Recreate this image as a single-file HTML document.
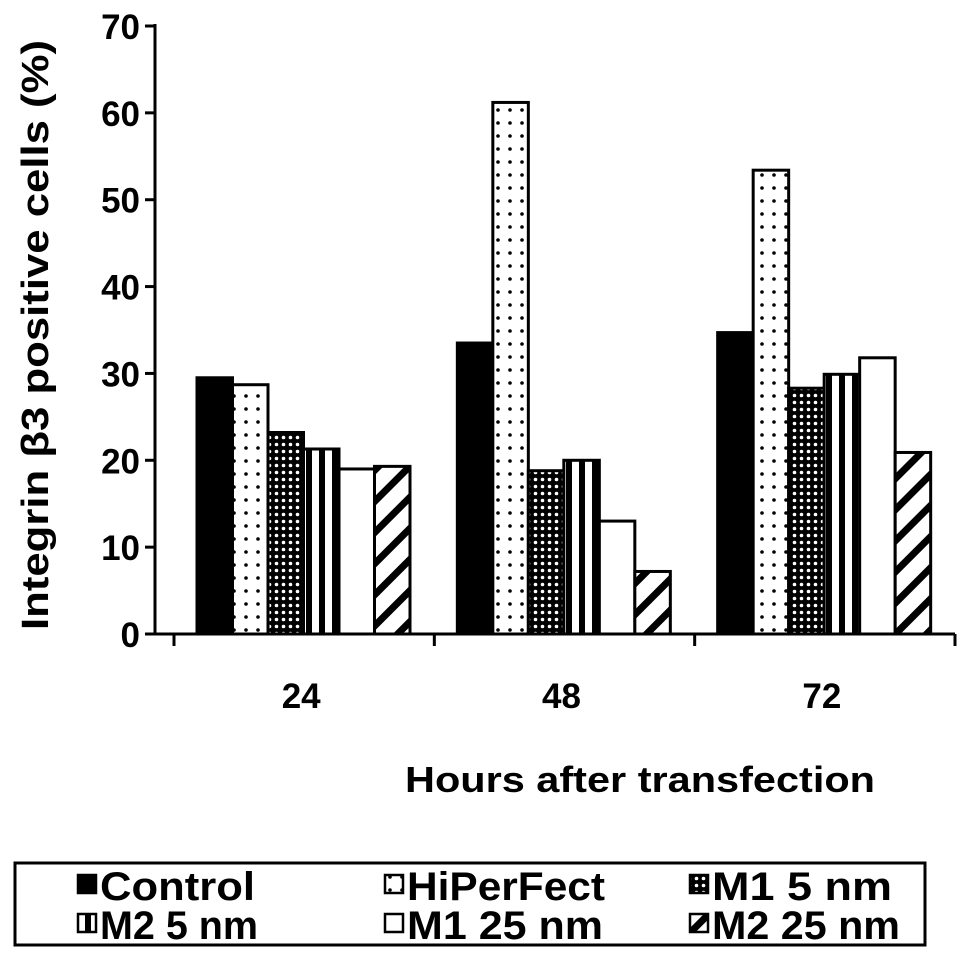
<!DOCTYPE html>
<html><head><meta charset="utf-8"><style>
html,body{margin:0;padding:0;background:#fff;}
svg{display:block;font-family:"Liberation Sans",sans-serif;font-weight:bold;}
</style></head><body>
<svg id="chart" width="969" height="959" viewBox="0 0 969 959" xmlns="http://www.w3.org/2000/svg">
<defs>
<pattern id="p-dots" width="12" height="13" patternUnits="userSpaceOnUse"><rect width="12" height="13" fill="#fff"/><circle cx="6" cy="6" r="1.8" fill="#000"/></pattern>
<pattern id="p-dense" width="7" height="7" patternUnits="userSpaceOnUse"><rect width="7" height="7" fill="#000"/><circle cx="3.5" cy="3.5" r="1.8" fill="#fff"/></pattern>
<pattern id="p-vert" width="13" height="10" patternUnits="userSpaceOnUse"><rect width="13" height="10" fill="#fff"/><rect x="7" width="6" height="10" fill="#000"/></pattern>
<pattern id="p-diag" width="22" height="22" patternUnits="userSpaceOnUse" patternTransform="rotate(45)"><rect width="22" height="22" fill="#fff"/><rect width="7" height="22" fill="#000"/></pattern>
</defs>
<g id="axes"></g>
<g id="bars"></g>
<text transform="translate(48,335) rotate(-90)" text-anchor="middle" font-size="38" textLength="590" lengthAdjust="spacingAndGlyphs">Integrin β3 positive cells (%)</text>
<text x="640" y="792" text-anchor="middle" font-size="36" textLength="470" lengthAdjust="spacingAndGlyphs">Hours after transfection</text>
<g>
<rect x="15" y="863" width="910" height="82" fill="#fff" stroke="#000" stroke-width="3"/>
<g id="legend-items"></g>
</g>
</svg>
<script>
const categories = ["24", "48", "72"];
const seriesNames = ["Control", "HiPerFect", "M1 5 nm", "M2 5 nm", "M1 25 nm", "M2 25 nm"];
const control = [29.5, 33.5, 34.7];
const hiperfect = [28.7, 61.2, 53.4];
const m1_5 = [23.2, 18.8, 28.3];
const m2_5 = [21.3, 20.0, 29.9];
const m1_25 = [19.0, 13.0, 31.8];
const m2_25 = [19.3, 7.2, 20.9];
const yTicks = [0, 10, 20, 30, 40, 50, 60, 70];

const series = [control, hiperfect, m1_5, m2_5, m1_25, m2_25];
const fills = ["#000", "url(#p-dots)", "url(#p-dense)", "url(#p-vert)", "#fff", "url(#p-diag)"];
const NS = "http://www.w3.org/2000/svg";
const y0 = 634, yTop = 26, xLeft = 155, xRight = 955;
const yScale = v => y0 - (v / 70) * (y0 - yTop);
const groupW = (xRight - 174) / categories.length;
const xGroup = i => 174 + groupW * i;
const barW = 35.5;
const axes = document.getElementById('axes');
const bars = document.getElementById('bars');
function mk(tag, attrs, parent) { const e = document.createElementNS(NS, tag); for (const k in attrs) e.setAttribute(k, attrs[k]); parent.appendChild(e); return e; }

const yAxis = mk('line', {x1: xLeft, y1: yTop - 2, x2: xLeft, y2: y0, stroke: '#000', 'stroke-width': 3}, axes);


const xAxis = mk('line', {x1: xLeft, y1: y0, x2: xRight, y2: y0, stroke: '#000', 'stroke-width': 3}, axes);


yTicks.forEach(t => {
  const y = yScale(t);
  mk('line', {x1: xLeft - 10, y1: y, x2: xLeft, y2: y, stroke: '#000', 'stroke-width': 3}, axes);
  const tx = mk('text', {x: 140, y: y + 13, 'text-anchor': 'end', 'font-size': 35}, axes);
  tx.textContent = t;
  
  
});
for (let i = 0; i <= categories.length; i++) {
  mk('line', {x1: xGroup(i), y1: y0, x2: xGroup(i), y2: y0 + 12, stroke: '#000', 'stroke-width': 3}, axes);
}
categories.forEach((c, i) => {
  const tx = mk('text', {x: xGroup(i) + groupW / 2 - 3, y: 708, 'text-anchor': 'middle', 'font-size': 35}, axes);
  tx.textContent = c;
  
  
});
categories.forEach((c, i) => {
  const start = xGroup(i) + 23;
  series.forEach((s, j) => {
    const x = start + j * barW;
    const y = yScale(s[i]);
    const r = mk('rect', {x: x, y: y, width: barW, height: y0 - y, fill: fills[j], stroke: '#000', 'stroke-width': 3}, bars);
    
    
  });
});
const leg = document.getElementById('legend-items');
const legX = [78, 385, 690], legY = [885, 924];
const legW = [155, 198, 180, 158, 196, 188];
seriesNames.forEach((n, j) => {
  const col = j % 3, row = Math.floor(j / 3);
  const lx = legX[col], ly = legY[row];
  const sw = mk('rect', {x: lx, y: ly - 10, width: 18, height: 18, fill: fills[j], stroke: '#000', 'stroke-width': 2.5}, leg);
  
  
  const tx = mk('text', {x: lx + 22, y: ly + 15, 'font-size': 40, textLength: legW[j], lengthAdjust: 'spacingAndGlyphs'}, leg);
  tx.textContent = n;
  
  
});
</script>
</body></html>
